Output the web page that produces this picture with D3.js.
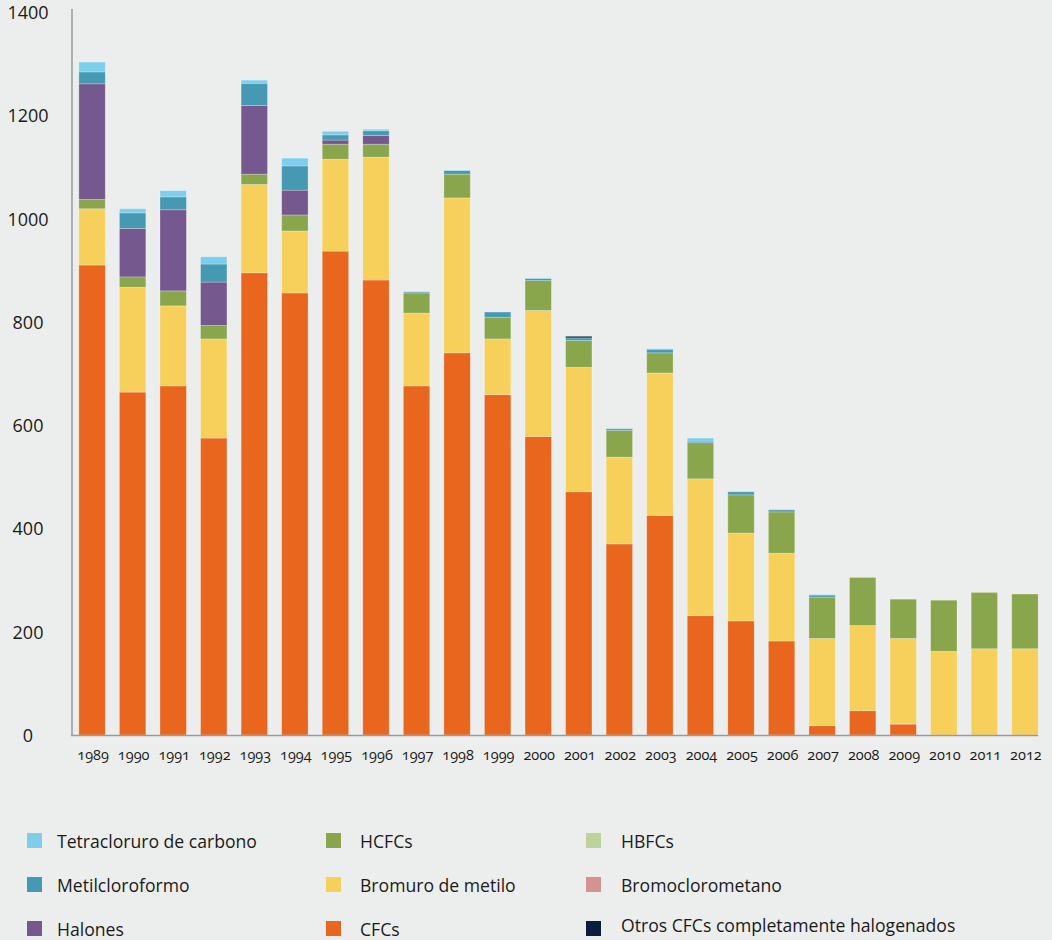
<!DOCTYPE html>
<html>
<head>
<meta charset="utf-8">
<script src="https://cdn.jsdelivr.net/npm/d3@7/dist/d3.min.js"></script>
<style>
  html, body { margin: 0; padding: 0; background: #eceeed; }
  svg { display: block; }
  text { font-family: "Open Sans", "Noto Sans", sans-serif; fill: #1a1a1a; }
</style>
</head>
<body>
<svg id="chart" width="1052" height="940"></svg>
<script>
const years = ["1989","1990","1991","1992","1993","1994","1995","1996","1997","1998","1999","2000","2001","2002","2003","2004","2005","2006","2007","2008","2009","2010","2011","2012"];

const cfcs            = [910, 664, 676, 575, 895, 856, 937, 881, 676, 740, 659, 578, 471, 370, 425, 231, 221, 182, 18, 47, 21, 0, 0, 0];
const bromoclorometano= [0, 0, 0, 0, 0, 0, 0, 0, 0, 0, 0, 0, 0, 0, 0, 0, 0, 0, 0, 0, 1.5, 0, 0, 0];
const bromuroMetilo   = [109, 203, 155, 192, 171, 120, 178, 238, 141, 300, 108, 244, 241, 168, 276, 265, 170, 170, 169, 165, 164.5, 162, 167, 167];
const hbfcs           = [0, 0, 0, 0, 0, 0, 0, 0, 0, 0, 0, 0, 0, 0, 0, 0, 0, 0, 0, 0, 0, 0, 0, 0];
const hcfcs           = [18, 20, 29, 26, 20, 31, 29, 25, 39, 46, 42, 58, 52, 52, 39, 70, 74, 80, 80, 93, 76, 99, 109, 106];
const halones         = [224, 94, 157, 84, 133, 48, 8, 17, 0, 0, 0, 0, 0, 0, 0, 0, 0, 0, 0, 0, 0, 0, 0, 0];
const metilcloroformo = [23, 30, 25, 35, 43, 47, 10, 9, 2, 7, 10, 4, 5, 3, 7, 3, 6, 4, 4, 0, 0, 0, 0, 0];
const tetracloruro    = [19, 8, 12, 14, 6, 15, 7, 3, 1, 1, 0, 1, 0, 1, 1, 6, 1, 1, 1, 0, 0, 0, 0, 0];
const otrosCFCs       = [0, 0, 0, 0, 0, 0, 0, 0, 0, 0, 0, 0, 3, 0, 0, 0, 0, 0, 0, 0, 0, 0, 0, 0];

const yTicks = [0, 200, 400, 600, 800, 1000, 1200, 1400];

const seriesDefs = [
  { key: "cfcs", name: "CFCs", values: cfcs, color: "#e9661f" },
  { key: "bromocl", name: "Bromoclorometano", values: bromoclorometano, color: "#d49290" },
  { key: "bromuro", name: "Bromuro de metilo", values: bromuroMetilo, color: "#f6d05a" },
  { key: "hbfcs", name: "HBFCs", values: hbfcs, color: "#bcd39a" },
  { key: "hcfcs", name: "HCFCs", values: hcfcs, color: "#8aa64d" },
  { key: "halones", name: "Halones", values: halones, color: "#74588e" },
  { key: "metil", name: "Metilcloroformo", values: metilcloroformo, color: "#4599b2" },
  { key: "tetra", name: "Tetracloruro de carbono", values: tetracloruro, color: "#7dcdec" },
  { key: "otros", name: "Otros CFCs completamente halogenados", values: otrosCFCs, color: "#0b1d3d" }
];

const legendOrder = [
  ["tetra", "metil", "halones"],
  ["hcfcs", "bromuro", "cfcs"],
  ["hbfcs", "bromocl", "otros"]
];

const svg = d3.select("#chart");

const x = d3.scaleBand().domain(years).range([72, 1045]).paddingInner(0.35).paddingOuter(0.17);
const y = d3.scaleLinear().domain([0, 1400]).range([735, 12]);

const table = years.map((yr, i) => {
  const row = { year: yr };
  seriesDefs.forEach(s => row[s.key] = s.values[i]);
  return row;
});

const stack = d3.stack().keys(seriesDefs.map(s => s.key));
const stacked = stack(table);
const colorOf = Object.fromEntries(seriesDefs.map(s => [s.key, s.color]));
const nameOf = Object.fromEntries(seriesDefs.map(s => [s.key, s.name]));

const g = svg.append("g");
g.selectAll("g.layer")
  .data(stacked)
  .join("g")
  .attr("class", "layer")
  .attr("fill", d => colorOf[d.key])
  .selectAll("rect")
  .data(d => d.filter(p => p[1] - p[0] > 0))
  .join("rect")
  .attr("x", d => x(d.data.year))
  .attr("width", x.bandwidth())
  .attr("y", d => y(d[1]))
  .attr("height", d => y(d[0]) - y(d[1]))
  .attr("stroke", "rgba(255,255,255,0.3)")
  .attr("stroke-width", 0.8);

// Axes lines
svg.append("line")
  .attr("x1", 72).attr("x2", 72)
  .attr("y1", 9).attr("y2", y(0) + 1)
  .attr("stroke", "#9a9a9a").attr("stroke-width", 1.5);
svg.append("line")
  .attr("x1", 71).attr("x2", x(years[years.length - 1]) + x.bandwidth())
  .attr("y1", y(0) + 0.5).attr("y2", y(0) + 0.5)
  .attr("stroke", "#9a9a9a").attr("stroke-width", 1.5);

// Y tick labels
svg.append("g").selectAll("text")
  .data(yTicks)
  .join("text")
  .attr("x", 28)
  .attr("y", d => y(d))
  .attr("text-anchor", "middle")
  .attr("dominant-baseline", "central")
  .attr("font-size", 18)
  .text(d => d);

// X labels
svg.append("g").selectAll("text")
  .data(years)
  .join("text")
  .attr("x", d => x(d) + x.bandwidth() / 2 + 1)
  .attr("y", 754)
  .attr("text-anchor", "middle")
  .attr("dominant-baseline", "central")
  .attr("font-size", 14.5)
  .style("font-variant-numeric", "oldstyle-nums")
  .text(d => d);

// Legend
const colX = [27, 326, 586];
const textX = [57, 360, 621];
const rowY = [841, 885, 929];
legendOrder.forEach((col, ci) => {
  col.forEach((key, ri) => {
    svg.append("rect")
      .attr("x", colX[ci]).attr("y", rowY[ri] - 8)
      .attr("width", 15).attr("height", 15)
      .attr("fill", colorOf[key]);
    svg.append("text")
      .attr("x", textX[ci])
      .attr("y", key === "otros" ? rowY[ri] - 4 : rowY[ri])
      .attr("dominant-baseline", "central")
      .attr("font-size", 17.6)
      .text(nameOf[key]);
  });
});
</script>
</body>
</html>
